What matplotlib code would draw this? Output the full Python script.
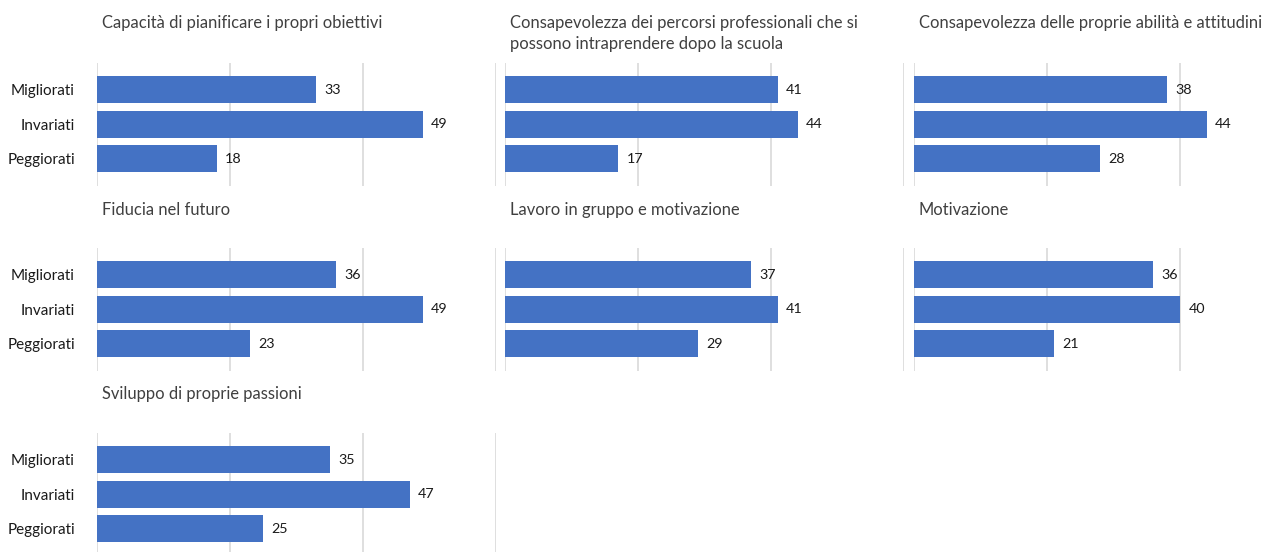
import matplotlib.pyplot as plt

plt.rcParams["font.family"] = ["Lato", "DejaVu Sans"]

# Data
categories = ["Migliorati", "Invariati", "Peggiorati"]
titles = [
    "Capacità di pianificare i propri obiettivi",
    "Consapevolezza dei percorsi professionali che si\npossono intraprendere dopo la scuola",
    "Consapevolezza delle proprie abilità e attitudini",
    "Fiducia nel futuro",
    "Lavoro in gruppo e motivazione",
    "Motivazione",
    "Sviluppo di proprie passioni",
]
pianificare = [33, 49, 18]
percorsi = [41, 44, 17]
abilita = [38, 44, 28]
fiducia = [36, 49, 23]
gruppo = [37, 41, 29]
motivazione = [36, 40, 21]
passioni = [35, 47, 25]
series = [pianificare, percorsi, abilita, fiducia, gruppo, motivazione, passioni]

W, H = 1277, 552
fig = plt.figure(figsize=(W / 100, H / 100), dpi=100)

col_left = [97, 505, 914]
row_top = [63, 248, 433]
title_y = [15, 202, 386]
ax_w, ax_h = 399, 123

bar_color = "#4472C4"
grid_color = "#D9D9D9"

for i, (title, vals) in enumerate(zip(titles, series)):
    r, c = divmod(i, 3)
    left = col_left[c]
    top = row_top[r]
    ax = fig.add_axes([left / W, 1 - (top + ax_h) / H, ax_w / W, ax_h / H])
    y = range(len(categories))
    ax.barh(y, vals, height=0.78, color=bar_color, zorder=2)
    ax.set_xlim(0, 60)
    ax.set_ylim(2.8, -0.78)
    ax.set_xticks([0, 20, 40, 60])
    ax.xaxis.grid(True, color=grid_color, linewidth=1.2, zorder=0)
    ax.tick_params(axis="x", length=0, labelbottom=False)
    for s in ax.spines.values():
        s.set_visible(False)
    if c == 0:
        ax.set_yticks(list(y))
        ax.set_yticklabels(categories, fontsize=11, color="#1a1a1a")
        ax.tick_params(axis="y", length=0, pad=16)
    else:
        ax.set_yticks([])
    for yy, v in zip(y, vals):
        ax.annotate(str(v), (v, yy), xytext=(6, 0), textcoords="offset points",
                    va="center", ha="left", fontsize=10.3, color="#1a1a1a")
    fig.text((left + 5) / W, 1 - title_y[r] / H, title, ha="left", va="top",
             fontsize=11.9, color="#404040", linespacing=1.38)

fig.savefig("out.png", dpi=100)
